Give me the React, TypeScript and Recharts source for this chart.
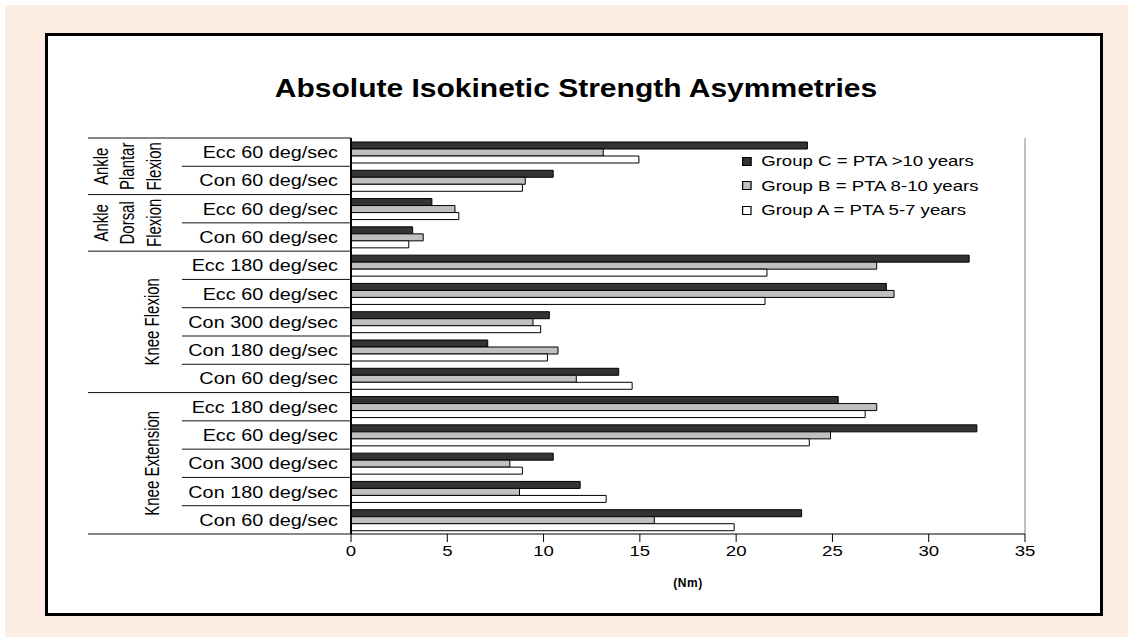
import React from "react";
import { BarChart, Bar, XAxis, YAxis, Legend, ReferenceLine } from "recharts";

// rows top to bottom
const categories = [
  "Ecc 60 deg/sec", "Con 60 deg/sec",
  "Ecc 60 deg/sec", "Con 60 deg/sec",
  "Ecc 180 deg/sec", "Ecc 60 deg/sec", "Con 300 deg/sec", "Con 180 deg/sec", "Con 60 deg/sec",
  "Ecc 180 deg/sec", "Ecc 60 deg/sec", "Con 300 deg/sec", "Con 180 deg/sec", "Con 60 deg/sec",
];
const groupLabels = [["Ankle", "Plantar", "Flexion"], ["Ankle", "Dorsal", "Flexion"], ["Knee Flexion"], ["Knee Extension"]];
const groupSizes = [2, 2, 5, 5];

const groupC = [23.7, 10.5, 4.2, 3.2, 32.1, 27.8, 10.3, 7.1, 13.9, 25.3, 32.5, 10.5, 11.9, 23.4];
const groupB = [13.1, 9.05, 5.4, 3.75, 27.3, 28.2, 9.45, 10.75, 11.7, 27.3, 24.9, 8.25, 8.75, 15.75];
const groupA = [14.95, 8.9, 5.6, 3.0, 21.6, 21.5, 9.85, 10.2, 14.6, 26.7, 23.8, 8.9, 13.25, 19.9];
const xTicks = [0, 5, 10, 15, 20, 25, 30, 35];
const legendOrder = ["C", "B", "A"];

const rows = categories.map((c, i) => ({ id: "r" + i, C: groupC[i], B: groupB[i], A: groupA[i] }));

const FONT = '"Liberation Sans", Arial, sans-serif';
const SX = 1.2; // the picture is stretched sideways, text with it
const W = 1128;
const H = 637;
const PLOT_TOP = 138;
const PLOT_BOTTOM = 534;
const AXIS_X = 351;
const PLOT_RIGHT = 1025;
const BAND = (PLOT_BOTTOM - PLOT_TOP) / categories.length;

function CategoryTick(props: any) {
  const { y, payload } = props;
  const i = Number(String(payload.value).slice(1));
  let start = 0;
  let g = 0;
  while (g < groupSizes.length && i >= start + groupSizes[g]) {
    start += groupSizes[g];
    g++;
  }
  const last = i === start + groupSizes[g] - 1;
  const bottom = y + BAND / 2;
  const cols = groupLabels[g].length === 3 ? [101, 127, 154] : [152];
  const gy = y - BAND / 2 + (groupSizes[g] * BAND) / 2;
  return (
    <g>
      <text
        transform={`translate(${AXIS_X - 13} ${y}) scale(${SX} 1)`}
        textAnchor="end"
        dy="0.36em"
        fontSize={16.5}
        fontFamily={FONT}
        fill="#000"
      >
        {categories[i]}
      </text>
      <line x1={last ? 88 : 182} x2={AXIS_X} y1={bottom} y2={bottom} stroke="#111" />
      {i === 0 && <line x1={88} x2={AXIS_X} y1={y - BAND / 2} y2={y - BAND / 2} stroke="#111" />}
      {i === start &&
        groupLabels[g].map((t, k) => (
          <text
            key={k}
            transform={`translate(${cols[k]} ${gy}) scale(1.3 1) rotate(-90)`}
            textAnchor="middle"
            dy="0.36em"
            fontSize={15}
            fontFamily={FONT}
            fill="#000"
          >
            {t}
          </text>
        ))}
    </g>
  );
}

function ValueTick(props: any) {
  const { x, y, payload } = props;
  return (
    <text
      transform={`translate(${x} ${y}) scale(${SX} 1)`}
      textAnchor="middle"
      dy="0.72em"
      fontSize={15.5}
      fontFamily={FONT}
      fill="#000"
    >
      {payload.value}
    </text>
  );
}

function LegendBox(props: any) {
  const items = [...(props.payload || [])].sort(
    (a: any, b: any) => legendOrder.indexOf(a.dataKey) - legendOrder.indexOf(b.dataKey)
  );
  return (
    <div style={{ fontFamily: FONT, fontSize: 15.5, transform: `scaleX(${SX})`, transformOrigin: "left top", color: "#000" }}>
      {items.map((it: any) => (
        <div key={it.value} style={{ height: 24.5, display: "flex", alignItems: "center", whiteSpace: "nowrap" }}>
          <span
            style={{
              display: "inline-block",
              width: 6,
              height: 7,
              background: it.color,
              border: "1px solid #000",
              marginRight: 8,
            }}
          />
          {it.value}
        </div>
      ))}
    </div>
  );
}

export default function App() {
  return (
    <div style={{ position: "absolute", left: 0, top: 0, width: W, height: H, background: "#fff" }}>
      <div style={{ position: "absolute", left: 5, top: 5, width: W - 5, height: H - 5, background: "#fdece2" }} />
      <div
        style={{
          position: "absolute",
          left: 45,
          top: 33,
          width: 1052,
          height: 577,
          background: "#fff",
          border: "3px solid #000",
        }}
      />
      <div
        style={{
          position: "absolute",
          left: 576,
          top: 88,
          transform: `translate(-50%, -50%) scaleX(${SX})`,
          fontFamily: FONT,
          fontWeight: "bold",
          fontSize: 25,
          whiteSpace: "nowrap",
          color: "#000",
        }}
      >
        Absolute Isokinetic Strength Asymmetries
      </div>
      <div style={{ position: "absolute", left: 0, top: 0 }}>
        <BarChart
          width={W}
          height={H}
          data={rows}
          layout="vertical"
          margin={{ top: PLOT_TOP, right: W - PLOT_RIGHT, bottom: H - PLOT_BOTTOM - 30, left: 88 }}
          barGap={0}
          barSize={7}
        >
          <XAxis
            xAxisId="top"
            orientation="top"
            type="number"
            domain={[0, 35]}
            height={0}
            tick={false}
            tickLine={false}
            axisLine={{ stroke: "#808080" }}
          />
          <XAxis
            type="number"
            domain={[0, 35]}
            ticks={xTicks}
            interval={0}
            height={30}
            tickSize={8}
            tickMargin={3}
            tick={<ValueTick />}
            axisLine={{ stroke: "#000" }}
            tickLine={{ stroke: "#000" }}
            label={{
              value: "(Nm)",
              position: "bottom",
              offset: 14,
              style: { fontFamily: FONT, fontWeight: "bold", fontSize: 12, fill: "#000", letterSpacing: 0.5 },
            }}
          />
          <YAxis
            type="category"
            dataKey="id"
            width={AXIS_X - 88}
            interval={0}
            tickLine={false}
            tickSize={0}
            tick={<CategoryTick />}
            axisLine={{ stroke: "#000", strokeWidth: 2 }}
          />
          <ReferenceLine x={35} stroke="#808080" />
          <Legend
            layout="vertical"
            align="center"
            verticalAlign="middle"
            content={<LegendBox />}
            wrapperStyle={{ left: 742, top: 149, width: 300, height: 74 }}
          />
          <Bar dataKey="C" name="Group C = PTA >10 years" fill="#333333" stroke="#000" strokeWidth={1} isAnimationActive={false} />
          <Bar dataKey="B" name="Group B = PTA 8-10 years" fill="#c0c0c0" stroke="#000" strokeWidth={1} isAnimationActive={false} />
          <Bar dataKey="A" name="Group A = PTA 5-7 years" fill="#ffffff" stroke="#000" strokeWidth={1} isAnimationActive={false} />
        </BarChart>
      </div>
    </div>
  );
}
